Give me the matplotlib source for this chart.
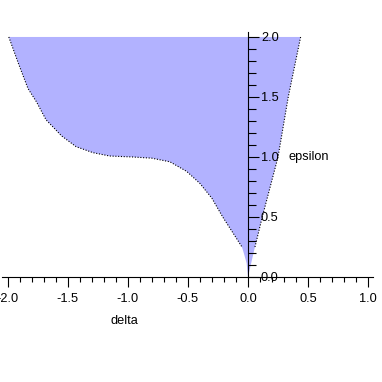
import numpy as np
import matplotlib
matplotlib.use("Agg")
import matplotlib.pyplot as plt

# left boundary of the region (top -> origin)
left_delta = [-1.99, -1.91, -1.83, -1.76, -1.68, -1.55, -1.43, -1.29, -1.15,
              -0.96, -0.80, -0.65, -0.51, -0.40, -0.30, -0.21, -0.12, -0.05,
              -0.035, -0.011, 0.0]
left_eps = [2.0, 1.78, 1.57, 1.46, 1.31, 1.175, 1.086, 1.036, 1.008,
            1.0, 0.99, 0.96, 0.88, 0.78, 0.656, 0.50, 0.36, 0.25,
            0.20, 0.114, 0.0]

# right boundary (origin -> top)
right_delta = [0.0, 0.058, 0.119, 0.25, 0.335, 0.438]
right_eps = [0.0, 0.25, 0.5, 1.0, 1.5, 2.0]

x_major = [-2.0, -1.5, -1.0, -0.5, 0.0, 0.5, 1.0]
y_major = [0.0, 0.5, 1.0, 1.5, 2.0]

plt.rcParams["font.family"] = ["Liberation Sans", "DejaVu Sans"]
plt.rcParams["axes.unicode_minus"] = False

fig = plt.figure(figsize=(3.82, 3.82), dpi=100)
ax = fig.add_axes([0, 0, 1, 1])
ax.set_xlim(-2.063, 1.115)
ax.set_ylim(-0.875, 2.308)

poly_x = list(left_delta) + list(right_delta)
poly_y = list(left_eps) + list(right_eps)
ax.fill(poly_x, poly_y, color="#b2b2ff", lw=0, zorder=1)

dots = (0, (1, 1.5))
ax.plot(left_delta[:-3], left_eps[:-3], color="black", lw=0.8, ls=dots, zorder=2)
ax.plot(right_delta[1:], right_eps[1:], color="black", lw=0.8, ls=dots, zorder=2)

for side in ("top", "left"):
    ax.spines[side].set_visible(False)
ax.spines["bottom"].set_position(("data", 0))
ax.spines["right"].set_position(("data", 0))
ax.spines["bottom"].set_bounds(-2.05, 1.04)
ax.spines["right"].set_bounds(0, 2.04)
for side in ("bottom", "right"):
    ax.spines[side].set_linewidth(0.8)
    ax.spines[side].set_zorder(3)

ax.xaxis.set_ticks_position("bottom")
ax.yaxis.set_ticks_position("right")
ax.set_xticks(x_major)
ax.set_xticklabels([f"{v:.1f}" for v in x_major])
ax.set_yticks(y_major)
ax.set_yticklabels([f"{v:.1f}" for v in y_major])
ax.set_xticks(np.linspace(x_major[0], x_major[-1], 31), minor=True)
ax.set_yticks(np.linspace(y_major[0], y_major[-1], 21), minor=True)

ax.tick_params(axis="x", which="major", direction="out", length=7.2, width=0.8,
               pad=4.5, labelsize=9.2)
ax.tick_params(axis="x", which="minor", direction="out", length=3.6, width=0.8)
ax.tick_params(axis="y", which="major", direction="out", length=7.9, width=0.8,
               pad=1.4, labelsize=9.2)
ax.tick_params(axis="y", which="minor", direction="out", length=5.8, width=0.8)

ax.text(-1.03, -0.37, "delta", ha="center", va="center", fontsize=9.2)
ax.text(0.333, 1.0, "epsilon", ha="left", va="center", fontsize=9.2)

fig.savefig("out.png", dpi=100)
